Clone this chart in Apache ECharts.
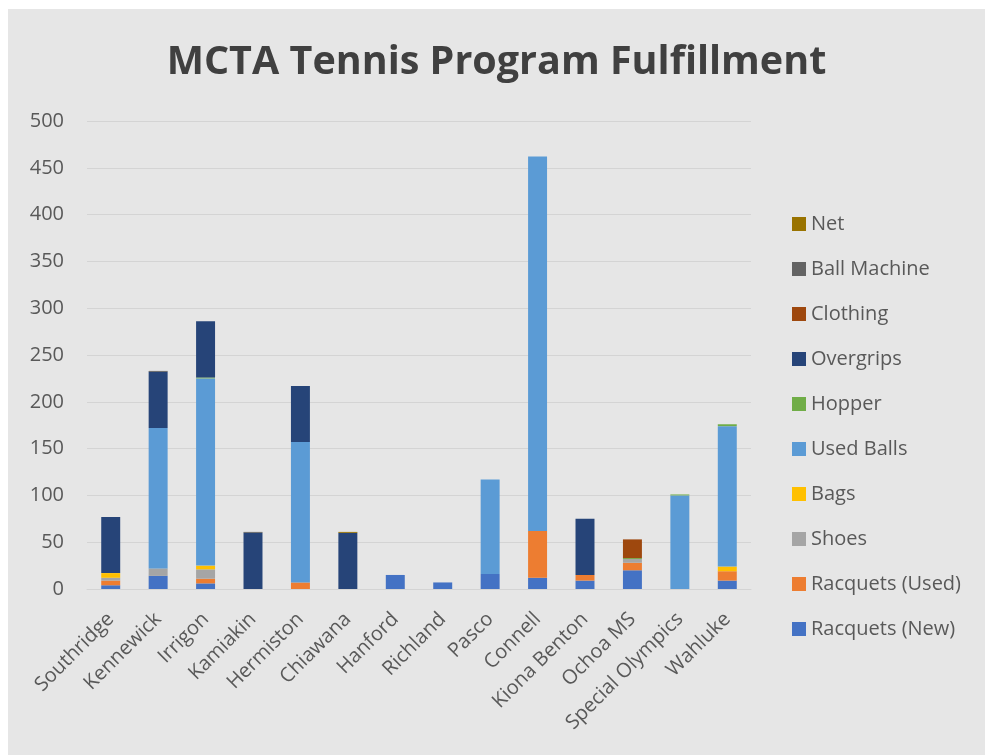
<!DOCTYPE html>
<html>
<head>
<meta charset="utf-8">
<script src="https://cdn.jsdelivr.net/npm/echarts@6/dist/echarts.min.js"></script>
<style>
    html, body { margin: 0; padding: 0; background: #fff; }
    #chart { position: absolute; left: 8px; top: 9px; width: 977px; height: 746px; }
</style>
</head>
<body>
<div id="chart"></div>
<script>
// schools on the x axis
var schools = ['Southridge', 'Kennewick', 'Irrigon', 'Kamiakin', 'Hermiston', 'Chiawana', 'Hanford',
    'Richland', 'Pasco', 'Connell', 'Kiona Benton', 'Ochoa MS', 'Special Olympics', 'Wahluke'];

// item counts per school, bottom of the stack first
var racquets_new  = [4, 14, 6, 0, 0, 0, 15, 7, 16, 12, 9, 20, 0, 9];
var racquets_used = [5, 0, 5, 0, 7, 0, 0, 0, 0, 50, 6, 8, 0, 10];
var shoes         = [3, 8, 10, 0, 0, 0, 0, 0, 0, 0, 0, 4, 0, 0];
var bags          = [5, 0, 4, 0, 0, 0, 0, 0, 0, 0, 0, 0, 0, 5];
var used_balls    = [0, 150, 200, 0, 150, 0, 0, 0, 101, 400, 0, 0, 100, 150];
var hopper        = [0, 0, 1, 0, 0, 0, 0, 0, 0, 0, 0, 1, 1, 2];
var overgrips     = [60, 60, 60, 60, 60, 60, 0, 0, 0, 0, 60, 0, 0, 0];
var clothing      = [0, 0, 0, 0, 0, 0, 0, 0, 0, 0, 0, 20, 0, 0];
var ball_machine  = [0, 1, 0, 1, 0, 0, 0, 0, 0, 0, 0, 0, 0, 0];
var net           = [0, 0, 0, 0, 0, 1, 0, 0, 0, 0, 0, 0, 0, 0];

var y_ticks = [0, 50, 100, 150, 200, 250, 300, 350, 400, 450, 500];

var series_names = ['Racquets (New)', 'Racquets (Used)', 'Shoes', 'Bags', 'Used Balls', 'Hopper',
    'Overgrips', 'Clothing', 'Ball Machine', 'Net'];
var series_values = [racquets_new, racquets_used, shoes, bags, used_balls, hopper,
    overgrips, clothing, ball_machine, net];
var color_arr = ['#4472C4', '#ED7D31', '#A5A5A5', '#FFC000', '#5B9BD5', '#70AD47',
    '#264478', '#9E480E', '#636363', '#997300'];

var text_color = '#595959';
var font = '"Open Sans", Lato, sans-serif';

var series_arr = [];
for (var i = 0; i < series_names.length; i++) {
    series_arr.push({
        name: series_names[i],
        type: 'bar',
        stack: 'total',
        barWidth: '40%',
        data: series_values[i].map(function (v) { return v === 0 ? '-' : v; })
    });
}

var option = {
    backgroundColor: '#e6e6e6',
    animation: false,
    color: color_arr,
    title: {
        text: 'MCTA Tennis Program Fulfillment',
        left: 'center',
        top: 29,
        textStyle: {
            color: '#404040',
            fontFamily: font,
            fontWeight: 'bold',
            fontSize: 39.5
        }
    },
    legend: {
        orient: 'vertical',
        left: 779,
        top: 200,
        data: series_names.slice().reverse(),
        itemWidth: 14,
        itemHeight: 14,
        itemGap: 25,
        icon: 'rect',
        textStyle: {
            color: text_color,
            fontFamily: font,
            fontSize: 20,
            lineHeight: 20
        }
    },
    grid: {
        left: 79,
        right: 234,
        top: 112,
        bottom: 166
    },
    xAxis: {
        type: 'category',
        data: schools,
        axisTick: { show: false },
        axisLine: { lineStyle: { color: '#d4d4d4', width: 1 } },
        axisLabel: {
            rotate: 45,
            interval: 0,
            margin: 27,
            color: text_color,
            fontFamily: font,
            fontSize: 20
        }
    },
    yAxis: {
        type: 'value',
        min: y_ticks[0],
        max: y_ticks[y_ticks.length - 1],
        interval: 50,
        axisLine: { show: false },
        axisTick: { show: false },
        axisLabel: {
            margin: 23,
            color: text_color,
            fontFamily: font,
            fontSize: 20
        },
        splitLine: { lineStyle: { color: '#d4d4d4', width: 1 } }
    },
    series: series_arr
};

var myChart = echarts.init(document.getElementById('chart'));
myChart.setOption(option);
</script>
</body>
</html>
